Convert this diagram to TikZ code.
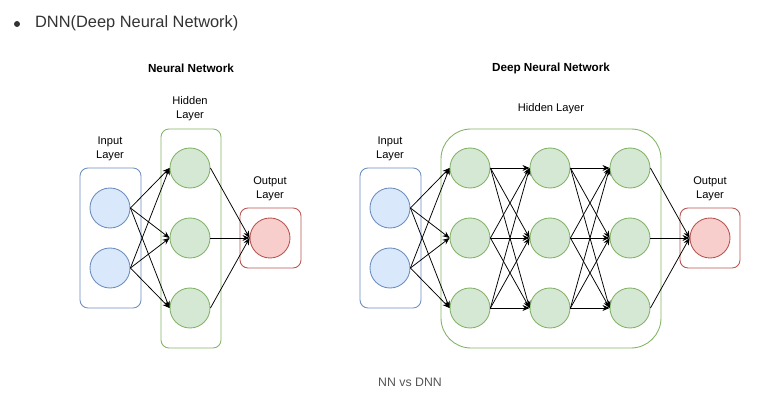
\documentclass[tikz,border=0pt]{standalone}
\usepackage{fontspec}
\setmainfont{Liberation Sans}
\usetikzlibrary{arrows.meta}

\definecolor{inblue}{HTML}{DAE8FC}
\definecolor{inbluel}{HTML}{6C8EBF}
\definecolor{hidgreen}{HTML}{D5E8D4}
\definecolor{hidgreenl}{HTML}{82B366}
\definecolor{outred}{HTML}{F8CECC}
\definecolor{outredl}{HTML}{B85450}
\definecolor{headgray}{HTML}{333333}
\definecolor{capgray}{HTML}{555555}

\tikzset{
  neuron/.style={circle, draw, line width=0.75pt, minimum size=1.2cm, inner sep=0pt},
  inneuron/.style={neuron, draw=inbluel, fill=inblue},
  hidneuron/.style={neuron, draw=hidgreenl, fill=hidgreen},
  outneuron/.style={neuron, draw=outredl, fill=outred},
  group/.style={draw, line width=0.75pt, rounded corners=0.24cm, inner sep=0pt},
  label/.style={align=center, font=\fontsize{9.5}{12}\selectfont},
  title/.style={font=\fontsize{10}{12}\selectfont\bfseries},
  conn/.style={line width=0.65pt, -{Stealth[length=6pt,width=5pt]}}
}

\begin{document}
\begin{tikzpicture}[x=0.03cm, y=-0.03cm]
    \useasboundingbox (0,0) rectangle (783,402);

    % heading
    \fill[headgray] (17,24) circle (3);
    \node[anchor=west, text=headgray, font=\fontsize{14}{17}\selectfont] (head) at (31,23) {DNN(Deep Neural Network)};

    % ---- Neural Network ----
    \node[title] (nntitle) at (191,68) {Neural Network};

    \node[group, draw=inbluel, minimum width=1.83cm, minimum height=4.2cm] (inbox) at (110.5,238) {};
    \node[group, draw=hidgreenl, minimum width=1.8cm, minimum height=6.57cm] (hidbox) at (191,238.5) {};
    \node[group, draw=outredl, minimum width=1.83cm, minimum height=1.8cm] (outbox) at (270.5,238) {};

    \node[label] (inlab) at (110,149) {Input\\Layer};
    \node[label] (hidlab) at (190,109) {Hidden\\Layer};
    \node[label] (outlab) at (270,189) {Output\\Layer};

    \node[inneuron] (in1) at (110,208) {};
    \node[inneuron] (in2) at (110,268) {};
    \node[hidneuron] (hid1) at (190,168) {};
    \node[hidneuron] (hid2) at (190,238) {};
    \node[hidneuron] (hid3) at (190,308) {};
    \node[outneuron] (out) at (270,238) {};

    \foreach \i in {1,2}
      \foreach \j in {1,2,3}
        \draw[conn] (in\i.east) -- (hid\j.west);
    \foreach \j in {1,2,3}
      \draw[conn] (hid\j.east) -- (out.west);

    % ---- Deep Neural Network ----
    \node[title] (dnntitle) at (551,68) {Deep Neural Network};

    \node[group, draw=inbluel, minimum width=1.83cm, minimum height=4.2cm] (dinbox) at (390.5,238) {};
    \node[group, draw=hidgreenl, rounded corners=0.9cm, minimum width=6.6cm, minimum height=6.57cm] (dhidbox) at (551,238.5) {};
    \node[group, draw=outredl, minimum width=1.8cm, minimum height=1.8cm] (doutbox) at (710,238) {};

    \node[label] (dinlab) at (390,149) {Input\\Layer};
    \node[label] (dhidlab) at (551,109) {Hidden Layer};
    \node[label] (doutlab) at (710,189) {Output\\Layer};

    \node[inneuron] (din1) at (390,208) {};
    \node[inneuron] (din2) at (390,268) {};
    \foreach \c/\x in {1/470,2/550,3/630}
      \foreach \r/\y in {1/168,2/238,3/308}
        \node[hidneuron] (h\c\r) at (\x,\y) {};
    \node[outneuron] (dout) at (710,238) {};

    \foreach \i in {1,2}
      \foreach \j in {1,2,3}
        \draw[conn] (din\i.east) -- (h1\j.west);
    \foreach \c/\n in {1/2,2/3}
      \foreach \i in {1,2,3}
        \foreach \j in {1,2,3}
          \draw[conn] (h\c\i.east) -- (h\n\j.west);
    \foreach \j in {1,2,3}
      \draw[conn] (h3\j.east) -- (dout.west);

    % caption
    \node[text=capgray, font=\fontsize{10.5}{12}\selectfont] (caption) at (410,382) {NN vs DNN};
\end{tikzpicture}
\end{document}
